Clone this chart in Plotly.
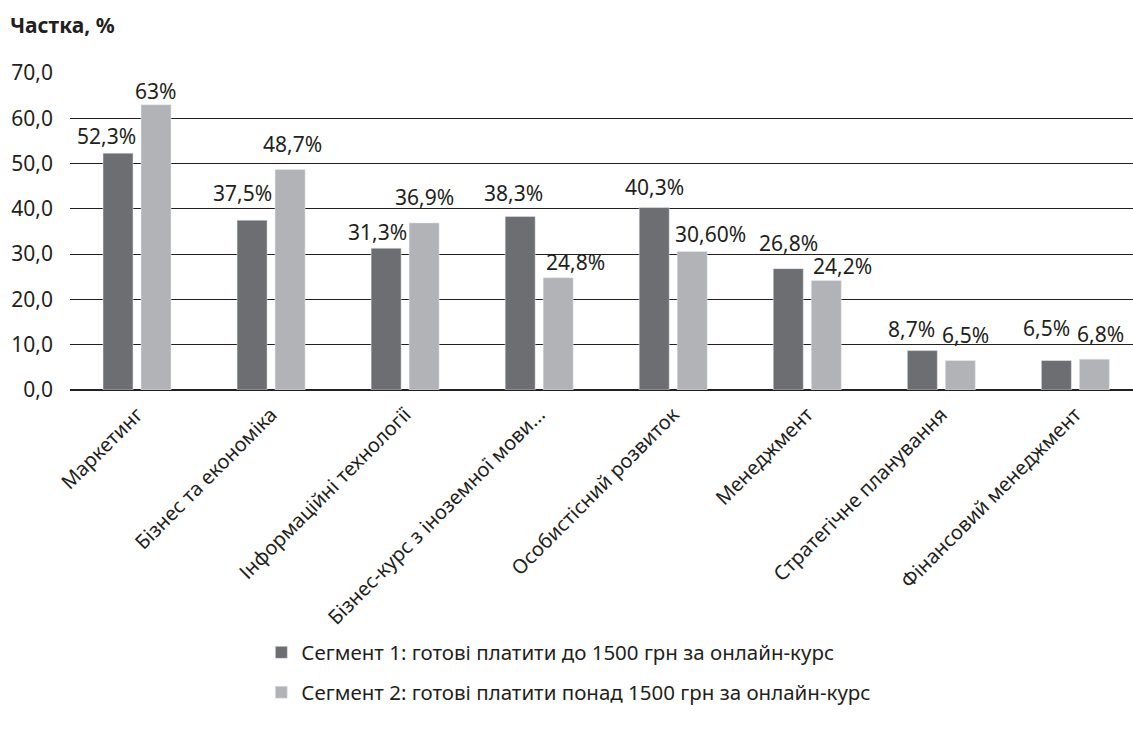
import plotly.graph_objects as go

categories = ["Маркетинг", "Бізнес та економіка", "Інформаційні технології",
              "Бізнес-курс з іноземної мови...", "Особистісний розвиток",
              "Менеджмент", "Стратегічне планування", "Фінансовий менеджмент"]
seg1 = [52.3, 37.5, 31.3, 38.3, 40.3, 26.8, 8.7, 6.5]
seg2 = [63.0, 48.7, 36.9, 24.8, 30.6, 24.2, 6.5, 6.8]
seg1_labels = ["52,3%", "37,5%", "31,3%", "38,3%", "40,3%", "26,8%", "8,7%", "6,5%"]
seg2_labels = ["63%", "48,7%", "36,9%", "24,8%", "30,60%", "24,2%", "6,5%", "6,8%"]
name1 = "Сегмент 1: готові платити до 1500 грн за онлайн-курс"
name2 = "Сегмент 2: готові платити понад 1500 грн за онлайн-курс"

# label placement offsets in pixels (style only), as in the original layout
seg1_dx = [-12, -10, -9, -7, 0, 0, -11, -10]
seg1_dy = [17, 27, 16, 24, 21, 26, 22, 33]
seg2_dx = [-1, 2, 0, 17, 18, 16, 5, 6]
seg2_dy = [14, 25, 26, 16, 17, 14, 26, 25]

FONT = "Noto Sans"
TXT = "#231f20"
BAR_OFF = 19  # px from category centre to each bar centre

fig = go.Figure()
fig.add_trace(go.Bar(x=categories, y=seg1, name=name1, marker_color="#6d6e71",
                     showlegend=True, legend="legend", hoverinfo="y"))
fig.add_trace(go.Bar(x=categories, y=seg2, name=name2, marker_color="#b1b3b6",
                     showlegend=True, legend="legend2", hoverinfo="y"))

annotations = []
for vals, labels, dxs, dys, side in [(seg1, seg1_labels, seg1_dx, seg1_dy, -1),
                                     (seg2, seg2_labels, seg2_dx, seg2_dy, 1)]:
    for cat, v, lab, dx, dy in zip(categories, vals, labels, dxs, dys):
        annotations.append(dict(x=cat, y=v, xref="x", yref="y", text=lab,
                                showarrow=False, xanchor="center", yanchor="middle",
                                xshift=side * BAR_OFF + dx, yshift=dy,
                                font=dict(size=21, color=TXT, family=FONT)))
annotations.append(dict(text="<b>Частка, %</b>", xref="paper", yref="paper",
                        x=-62/1063, y=1 + 48/317, xanchor="left", yanchor="middle",
                        showarrow=False, font=dict(size=21, color=TXT, family=FONT)))

fig.update_layout(
    width=1133, height=738,
    margin=dict(l=70, r=0, t=73, b=348),
    plot_bgcolor="white", paper_bgcolor="white",
    font=dict(family=FONT, color=TXT),
    separators=", ",
    showlegend=True,
    barmode="group", bargap=0.433, bargroupgap=0.21,
    xaxis=dict(range=[-0.5, 7.43], tickangle=-45, tickfont=dict(size=20, color=TXT),
               showline=False, ticks="", ticklabelstandoff=8),
    yaxis=dict(range=[0, 70], dtick=10, tickformat=".1f", showgrid=True,
               gridcolor=TXT, gridwidth=1, zeroline=True, zerolinecolor=TXT,
               zerolinewidth=1.5, tickfont=dict(size=21, color=TXT), ticklen=0,
               ticks="", ticklabelstandoff=16),
    legend=dict(x=0.18, y=-0.765, xanchor="left", yanchor="top",
                font=dict(size=20.5, color=TXT), bgcolor="rgba(0,0,0,0)"),
    legend2=dict(x=0.18, y=-0.891, xanchor="left", yanchor="top",
                 font=dict(size=20.5, color=TXT), bgcolor="rgba(0,0,0,0)"),
    annotations=annotations,
)
fig.write_html("out.html")
